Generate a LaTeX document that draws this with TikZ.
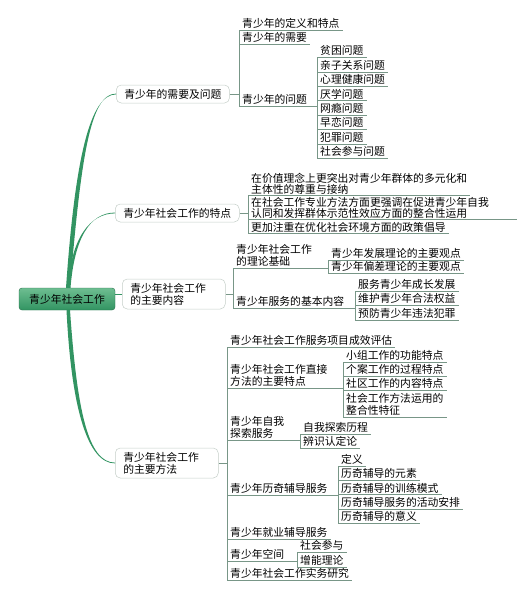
\documentclass[tikz,border=0pt]{standalone}
\usepackage{fontspec}
\setmainfont{Noto Sans CJK SC}
\definecolor{rootgreen}{RGB}{50,148,98}
\definecolor{rootlight}{RGB}{110,190,145}
\definecolor{linegray}{RGB}{120,150,135}
\definecolor{boxgray}{RGB}{196,206,200}
\begin{document}
\begin{tikzpicture}[x=1pt,y=-1pt,
  font=\fontsize{10.8}{12}\selectfont,
  root/.style={rounded corners=3pt, draw=rootgreen!75!black, top color=rootlight, bottom color=rootgreen, minimum width=96pt, minimum height=22pt, inner sep=0pt},
  topic/.style={rounded corners=5pt, draw=boxgray, line width=0.5pt, anchor=west, align=left, inner xsep=8pt, inner ysep=4pt},
  leaf/.style={anchor=south west, align=left, inner xsep=3pt, inner ysep=1.5pt},
  tight/.style={font=\fontsize{10.8}{11}\selectfont, inner ysep=0.5pt},
  uline/.style={draw=linegray, line width=0.5pt},
  branch/.style={fill=rootgreen},
]
\useasboundingbox (0,0) rectangle (518,600);
% root and main topics
\node[root] (t0) at (67,299){青少年社会工作};
\node[topic] (t1) at (116,94){青少年的需要及问题};
\node[topic] (t2) at (115,213){青少年社会工作的特点};
\node[topic, text width=87pt] (t3) at (122,294){青少年社会工作\\的主要内容};
\node[topic, text width=87pt] (t4) at (115,463){青少年社会工作\\的主要方法};
\fill[branch] ([xshift=-1pt]t0.north) .. controls +(9,-129) and +(-26,0) .. ([yshift=-0.4pt]t1.west) -- ([yshift=0.4pt]t1.west) .. controls +(-26,0) and +(11,-129) .. ([xshift=3pt]t0.north) -- cycle;
\fill[branch] ([xshift=1pt]t0.north) .. controls +(3,-50) and +(-25,0) .. ([yshift=-0.4pt]t2.west) -- ([yshift=0.4pt]t2.west) .. controls +(-25,0) and +(4,-50) .. ([xshift=3.5pt]t0.north) -- cycle;
\draw[rootgreen, line width=1pt] (t0.east |- t3.west) -- (t3.west);
\fill[branch] ([xshift=-0.5pt]t0.south) .. controls +(5,100) and +(-27,0) .. ([yshift=-0.4pt]t4.west) -- ([yshift=0.4pt]t4.west) .. controls +(-27,0) and +(7,100) .. ([xshift=3pt]t0.south) -- cycle;
% needs and problems
\node[leaf] (t11) at (239,30){青少年的定义和特点};
\node[leaf] (t12) at (239,44){青少年的需要};
\node[leaf] (t13) at (239,106){青少年的问题};
\draw[uline] (t1.east) -- (t1.east -| t11.south west);
\draw[uline] (t11.south west) -- (t13.south west);
\node[leaf] (t131) at (317,57.5){贫困问题};
\node[leaf] (t132) at (317,71.9){亲子关系问题};
\node[leaf] (t133) at (317,86.3){心理健康问题};
\node[leaf] (t134) at (317,100.7){厌学问题};
\node[leaf] (t135) at (317,115.1){网瘾问题};
\node[leaf] (t136) at (317,129.5){早恋问题};
\node[leaf] (t137) at (317,143.9){犯罪问题};
\node[leaf] (t138) at (317,158.3){社会参与问题};
\draw[uline] (t13.south east) -- (t13.south east -| t131.south west);
\draw[uline] (t131.south west) -- (t138.south west);
% features
\node[leaf, tight] (t21) at (248,195.5){在价值理念上更突出对青少年群体的多元化和\\主体性的尊重与接纳};
\node[leaf, tight, text width=263pt] (t22) at (248,219){在社会工作专业方法方面更强调在促进青少年自我\\认同和发挥群体示范性效应方面的整合性运用};
\node[leaf, tight] (t23) at (248,233){更加注重在优化社会环境方面的政策倡导};
\draw[uline] (t2.east) -- (t2.east -| t21.south west);
\draw[uline] (t21.south west) -- (t23.south west);
% main contents
\node[leaf] (t31) at (233,268){青少年社会工作\\的理论基础};
\node[leaf] (t32) at (233,308){青少年服务的基本内容};
\draw[uline] (t3.east) -- (t3.east -| t31.south west);
\draw[uline] (t31.south west) -- (t32.south west);
\node[leaf] (t311) at (328,260){青少年发展理论的主要观点};
\node[leaf] (t312) at (328,273){青少年偏差理论的主要观点};
\draw[uline] (t31.south east) -- (t31.south east -| t311.south west);
\draw[uline] (t311.south west) -- (t312.south west);
\node[leaf] (t321) at (355,291){服务青少年成长发展};
\node[leaf] (t322) at (355,305.5){维护青少年合法权益};
\node[leaf] (t323) at (355,320){预防青少年违法犯罪};
\draw[uline] (t32.south east) -- (t32.south east -| t321.south west);
\draw[uline] (t321.south west) -- (t323.south west);
% main methods
\node[leaf] (t41) at (227,347){青少年社会工作服务项目成效评估};
\node[leaf] (t42) at (227,388){青少年社会工作直接\\方法的主要特点};
\node[leaf] (t43) at (227,440){青少年自我\\探索服务};
\node[leaf] (t44) at (227,495){青少年历奇辅导服务};
\node[leaf] (t45) at (227,539){青少年就业辅导服务};
\node[leaf] (t46) at (227,561){青少年空间};
\node[leaf] (t47) at (227,580){青少年社会工作实务研究};
\draw[uline] (t4.east) -- (t4.east -| t41.south west);
\draw[uline] (t41.south west) -- (t47.south west);
\node[leaf] (t421) at (343,362){小组工作的功能特点};
\node[leaf] (t422) at (343,376){个案工作的过程特点};
\node[leaf] (t423) at (343,390){社区工作的内容特点};
\node[leaf] (t424) at (343,417){社会工作方法运用的\\整合性特征};
\draw[uline] (t42.south east) -- (t42.south east -| t421.south west);
\draw[uline] (t421.south west) -- (t424.south west);
\node[leaf] (t431) at (300,434.5){自我探索历程};
\node[leaf] (t432) at (300,448){辨识认定论};
\draw[uline] (t43.south east) -- (t43.south east -| t431.south west);
\draw[uline] (t431.south west) -- (t432.south west);
\node[leaf] (t441) at (338,466){定义};
\node[leaf] (t442) at (338,480.3){历奇辅导的元素};
\node[leaf] (t443) at (338,494.6){历奇辅导的训练模式};
\node[leaf] (t444) at (338,508.9){历奇辅导服务的活动安排};
\node[leaf] (t445) at (338,523.2){历奇辅导的意义};
\draw[uline] (t44.south east) -- (t44.south east -| t441.south west);
\draw[uline] (t441.south west) -- (t445.south west);
\node[leaf] (t461) at (297,552){社会参与};
\node[leaf] (t462) at (297,567){增能理论};
\draw[uline] (t46.south east) -- (t46.south east -| t461.south west);
\draw[uline] (t461.south west) -- (t462.south west);
% underlines
\foreach \n in {t11,t12,t13,t131,t132,t133,t134,t135,t136,t137,t138,t21,t22,t23,t31,t32,t311,t312,t321,t322,t323,t41,t42,t43,t44,t45,t46,t47,t421,t422,t423,t424,t431,t432,t441,t442,t443,t444,t445,t461,t462}
  \draw[uline] (\n.south west) -- (\n.south east);
\end{tikzpicture}
\end{document}
